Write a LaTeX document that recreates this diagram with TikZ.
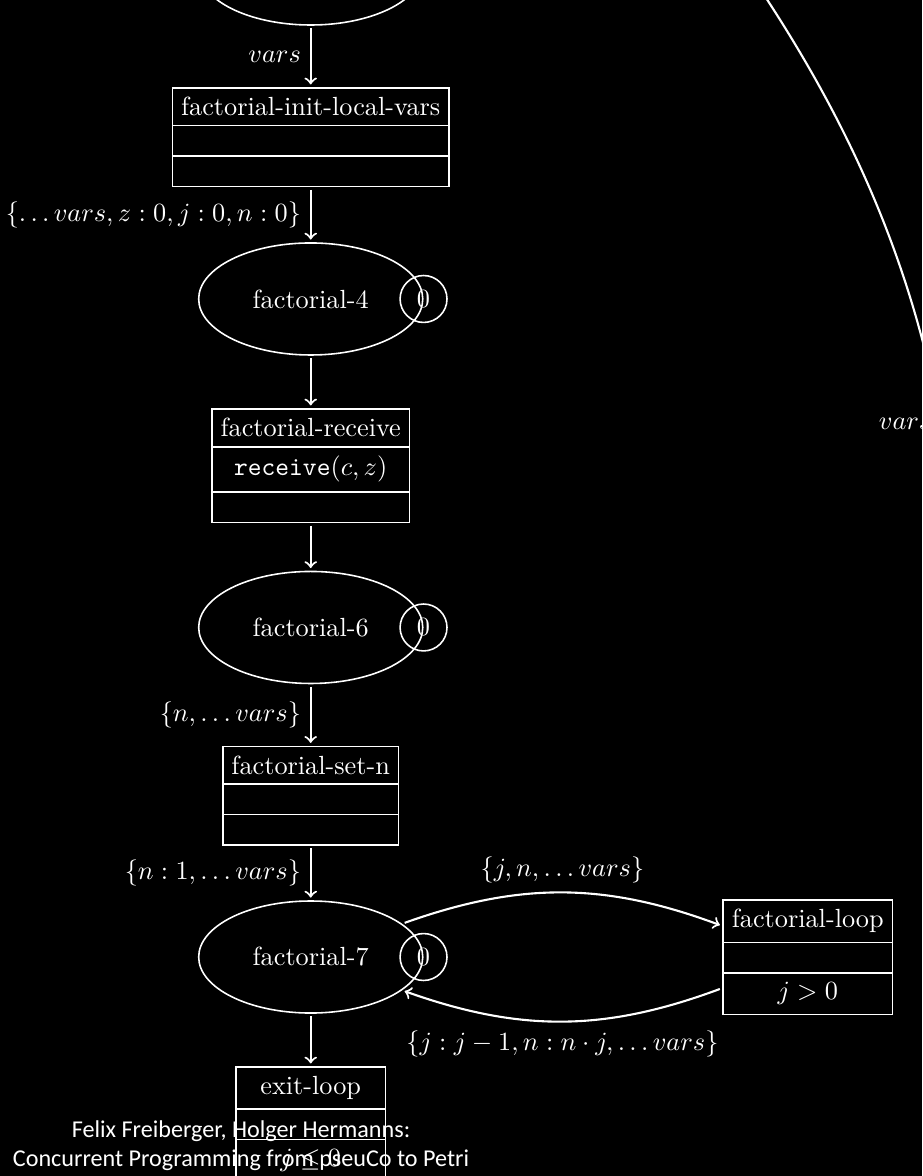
\documentclass[tikz,border=0pt]{standalone}
\usepackage{amsmath, amssymb}
\usepackage{fontspec}
\newfontfamily\footfont{Carlito}
\usetikzlibrary{shapes.geometric, shapes.multipart, positioning}

\begin{document}
\begin{tikzpicture}[
        color=white,
        place/.style={ellipse, draw, semithick, minimum width=3cm, minimum height=1.5cm},
        token/.style={circle, draw, semithick},
        trans/.style={rectangle split, rectangle split parts=3, draw, semithick, minimum width=2cm},
        edge/.style={->, thick, shorten <=1pt, shorten >=1pt},
        footer/.style={align=center, font=\footfont\fontsize{9.2}{11}\selectfont}
    ]
    \useasboundingbox (0,0) rectangle (12.345,-15.745);
    \fill[black] (0,0) rectangle (12.345,-15.745);

    \node[place] (start) at (4.16,0.415) {};
    \node[trans, below=0.82cm of start] (init) {factorial-init-local-vars \nodepart{two} \nodepart{three}};
    \node[place] (f4) at (4.16,-4.003) {factorial-4};
    \node[token] (f4tok) at (f4.east) {0};
    \node[trans, below=0.7cm of f4] (recv) {factorial-receive \nodepart{two} \texttt{receive}$(c,z)$ \nodepart{three}};
    \node[place] (f6) at (4.16,-8.401) {factorial-6};
    \node[token] (f6tok) at (f6.east) {0};
    \node[trans, below=0.82cm of f6] (setn) {factorial-set-n \nodepart{two} \nodepart{three}};
    \node[place] (f7) at (4.16,-12.813) {factorial-7};
    \node[token] (f7tok) at (f7.east) {0};
    \node[trans, below=0.7cm of f7] (exit) {exit-loop \nodepart{two} \nodepart{three} $j \leq 0$};
    \node[trans, right=4cm of f7] (loop) {factorial-loop \nodepart{two} \nodepart{three} $j > 0$};

    \draw[edge] (start) -- node[left] {$vars$} (init);
    \draw[edge] (init) -- node[left] {$\{\ldots vars, z:0, j:0, n:0\}$} (f4);
    \draw[edge] (f4) -- (recv);
    \draw[edge] (recv) -- (f6);
    \draw[edge] (f6) -- node[left] {$\{n, \ldots vars\}$} (setn);
    \draw[edge] (setn) -- node[left] {$\{n:1, \ldots vars\}$} (f7);
    \draw[edge] (f7) -- (exit);
    \draw[edge] (f7) to[bend left=20] node[above] {$\{j, n, \ldots vars\}$} (loop);
    \draw[edge] (loop) to[bend left=20] node[below] {$\{j:j-1, n:n\cdot j, \ldots vars\}$} (f7);

    % return arc on the right
    \coordinate (ret-in) at (9.91,0.54);
    \coordinate (ret-out) at (12.6,-5.68);
    \draw[edge] (ret-in) .. controls (11.4,-1.61) and (12.2,-3.54) .. (ret-out) node[left] {$vars$};

    \node[footer] (credit) at (3.227,-15.337) {Felix Freiberger, Holger Hermanns:\\Concurrent Programming from pseuCo to Petri};
\end{tikzpicture}
\end{document}
